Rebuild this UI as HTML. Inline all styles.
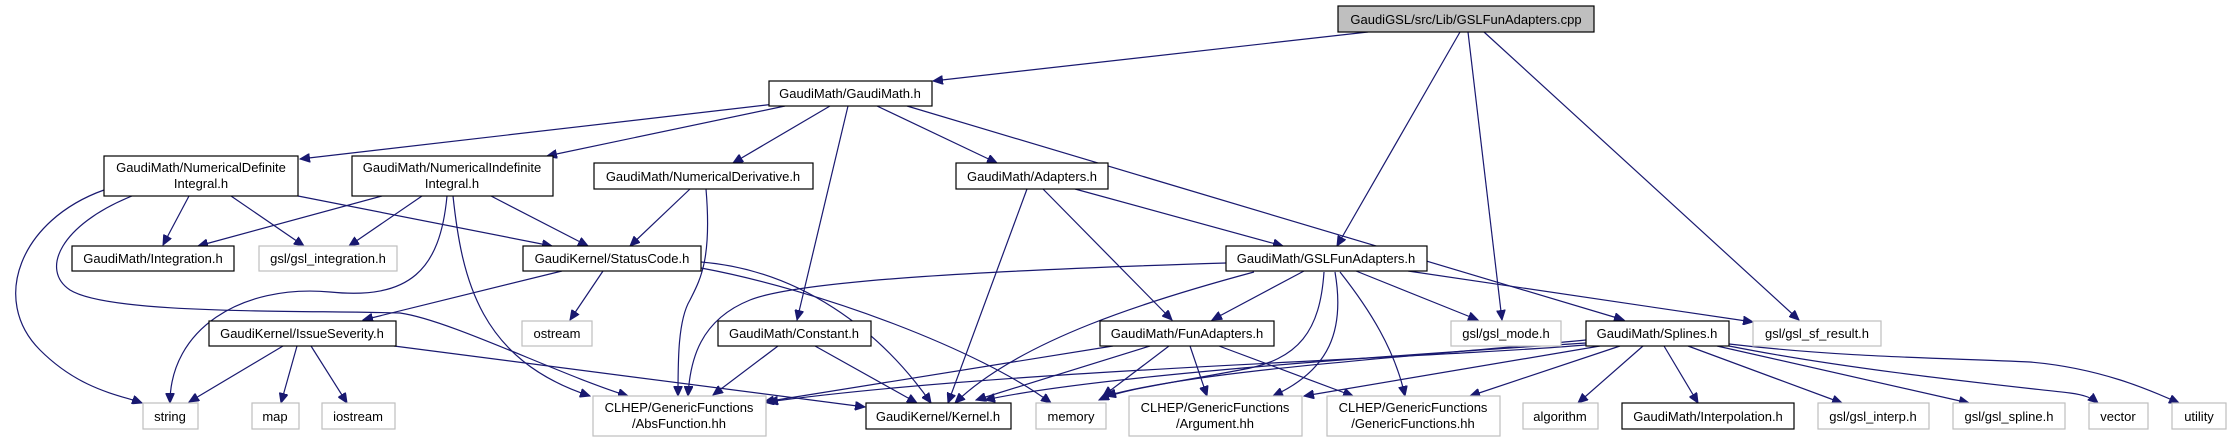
<!DOCTYPE html>
<html><head><meta charset="utf-8"><style>
html,body{margin:0;padding:0;background:#fff;}
svg{display:block;}
text{font-family:"Liberation Sans",sans-serif;font-size:13px;fill:#000;text-anchor:middle;}
.e{fill:none;stroke:#191970;stroke-width:1.2;}
.b{fill:#fff;stroke:#000;stroke-width:1.2;}
.g{fill:#fff;stroke:#bfbfbf;stroke-width:1.2;}
</style></head><body>
<svg width="2231" height="443" viewBox="0 0 2231 443" xmlns="http://www.w3.org/2000/svg">
<defs><marker id="a" markerUnits="userSpaceOnUse" markerWidth="11" markerHeight="9" refX="10" refY="4.5" orient="auto"><path d="M0,0 L10,4.5 L0,9 z" fill="#191970" stroke="#191970"/></marker></defs>
<g marker-end="url(#a)">
<path class="e" d="M1368,32 L933,81"/>
<path class="e" d="M1460,32 L1337,246"/>
<path class="e" d="M1468,32 L1502,320"/>
<path class="e" d="M1484,32 L1799,320"/>
<path class="e" d="M775,104 L300,159"/>
<path class="e" d="M785,106 L547,156"/>
<path class="e" d="M830,106 L733,163"/>
<path class="e" d="M848,106 L797,320"/>
<path class="e" d="M877,106 L997,163"/>
<path class="e" d="M907,106 L1624,320"/>
<path class="e" d="M104,190 C20,220 -10,300 40,350 C80,390 120,395 142,403"/>
<path class="e" d="M132,196 C60,225 40,270 70,290 C110,315 300,310 400,313 C450,320 560,375 628,396"/>
<path class="e" d="M189,196 L163,245"/>
<path class="e" d="M231,196 L304,246"/>
<path class="e" d="M298,196 L552,246"/>
<path class="e" d="M382,196 L198,246"/>
<path class="e" d="M422,196 L349,246"/>
<path class="e" d="M491,196 L588,246"/>
<path class="e" d="M447,196 C440,270 410,300 330,292 C240,284 170,330 170,403"/>
<path class="e" d="M453,196 C462,280 480,360 590,396"/>
<path class="e" d="M690,189 L630,246"/>
<path class="e" d="M706,189 C712,260 700,280 690,300 C678,320 678,360 678,396"/>
<path class="e" d="M562,271 L363,320"/>
<path class="e" d="M603,271 L570,320"/>
<path class="e" d="M701,262 C800,270 880,330 931,403"/>
<path class="e" d="M701,268 C820,290 980,350 1051,403"/>
<path class="e" d="M283,346 L189,402"/>
<path class="e" d="M297,346 L281,403"/>
<path class="e" d="M311,346 L347,403"/>
<path class="e" d="M394,346 L865,407"/>
<path class="e" d="M778,346 L713,395"/>
<path class="e" d="M815,346 L917,403"/>
<path class="e" d="M1027,189 L948,403"/>
<path class="e" d="M1043,189 L1172,320"/>
<path class="e" d="M1075,189 L1283,246"/>
<path class="e" d="M1226,263 C1000,270 800,280 750,300 C700,320 690,360 688,396"/>
<path class="e" d="M1254,272 C1150,300 1020,340 955,403"/>
<path class="e" d="M1304,271 L1212,320"/>
<path class="e" d="M1324,272 C1320,330 1300,360 1240,370 C1160,385 1120,390 1099,400"/>
<path class="e" d="M1335,272 C1345,330 1330,370 1273,396"/>
<path class="e" d="M1340,272 C1370,310 1395,350 1405,396"/>
<path class="e" d="M1356,271 L1478,320"/>
<path class="e" d="M1408,271 L1753,322"/>
<path class="e" d="M1113,346 L764,402"/>
<path class="e" d="M1150,346 L976,400"/>
<path class="e" d="M1169,346 L1103,396"/>
<path class="e" d="M1190,346 L1207,396"/>
<path class="e" d="M1219,346 L1353,396"/>
<path class="e" d="M1586,345 C1400,360 1000,370 768,402"/>
<path class="e" d="M1586,343 C1400,355 1100,375 985,400"/>
<path class="e" d="M1586,340 C1400,358 1200,370 1106,396"/>
<path class="e" d="M1600,346 L1304,396"/>
<path class="e" d="M1620,346 L1470,396"/>
<path class="e" d="M1643,346 L1578,403"/>
<path class="e" d="M1664,346 L1698,403"/>
<path class="e" d="M1688,346 L1842,403"/>
<path class="e" d="M1717,346 L1969,403"/>
<path class="e" d="M1729,346 C1850,370 2000,385 2070,393 C2085,395 2092,398 2098,403"/>
<path class="e" d="M1729,344 C1850,358 1950,358 2030,362 C2100,368 2150,390 2179,403"/>
</g>
<rect x="1338" y="6" width="256" height="26" fill="#bfbfbf" stroke="#000" stroke-width="1.2"/><text x="1466" y="24">GaudiGSL/src/Lib/GSLFunAdapters.cpp</text>
<rect class="b" x="769" y="81" width="163" height="25"/><text x="850" y="98">GaudiMath/GaudiMath.h</text>
<rect class="b" x="104" y="156" width="194" height="40"/><text x="201" y="172">GaudiMath/NumericalDefinite</text><text x="201" y="188">Integral.h</text>
<rect class="b" x="352" y="156" width="201" height="40"/><text x="452" y="172">GaudiMath/NumericalIndefinite</text><text x="452" y="188">Integral.h</text>
<rect class="b" x="594" y="163" width="219" height="26"/><text x="703" y="181">GaudiMath/NumericalDerivative.h</text>
<rect class="b" x="956" y="163" width="152" height="26"/><text x="1032" y="181">GaudiMath/Adapters.h</text>
<rect class="b" x="72" y="246" width="162" height="25"/><text x="153" y="263">GaudiMath/Integration.h</text>
<rect class="g" x="259" y="246" width="138" height="25"/><text x="328" y="263">gsl/gsl_integration.h</text>
<rect class="b" x="523" y="246" width="178" height="25"/><text x="612" y="263">GaudiKernel/StatusCode.h</text>
<rect class="b" x="1226" y="246" width="201" height="25"/><text x="1326" y="263">GaudiMath/GSLFunAdapters.h</text>
<rect class="b" x="209" y="321" width="187" height="25"/><text x="302" y="338">GaudiKernel/IssueSeverity.h</text>
<rect class="g" x="522" y="321" width="70" height="25"/><text x="557" y="338">ostream</text>
<rect class="b" x="718" y="321" width="153" height="25"/><text x="794" y="338">GaudiMath/Constant.h</text>
<rect class="b" x="1100" y="321" width="174" height="25"/><text x="1187" y="338">GaudiMath/FunAdapters.h</text>
<rect class="g" x="1451" y="321" width="110" height="25"/><text x="1506" y="338">gsl/gsl_mode.h</text>
<rect class="b" x="1586" y="321" width="143" height="25"/><text x="1657" y="338">GaudiMath/Splines.h</text>
<rect class="g" x="1753" y="321" width="128" height="25"/><text x="1817" y="338">gsl/gsl_sf_result.h</text>
<rect class="g" x="143" y="403" width="55" height="26"/><text x="170" y="421">string</text>
<rect class="g" x="252" y="403" width="47" height="26"/><text x="275" y="421">map</text>
<rect class="g" x="322" y="403" width="73" height="26"/><text x="358" y="421">iostream</text>
<rect class="g" x="593" y="396" width="173" height="40"/><text x="679" y="412">CLHEP/GenericFunctions</text><text x="679" y="428">/AbsFunction.hh</text>
<rect class="b" x="866" y="403" width="145" height="26"/><text x="938" y="421">GaudiKernel/Kernel.h</text>
<rect class="g" x="1036" y="403" width="70" height="26"/><text x="1071" y="421">memory</text>
<rect class="g" x="1129" y="396" width="173" height="40"/><text x="1215" y="412">CLHEP/GenericFunctions</text><text x="1215" y="428">/Argument.hh</text>
<rect class="g" x="1327" y="396" width="173" height="40"/><text x="1413" y="412">CLHEP/GenericFunctions</text><text x="1413" y="428">/GenericFunctions.hh</text>
<rect class="g" x="1523" y="403" width="75" height="26"/><text x="1560" y="421">algorithm</text>
<rect class="b" x="1622" y="403" width="172" height="26"/><text x="1708" y="421">GaudiMath/Interpolation.h</text>
<rect class="g" x="1818" y="403" width="111" height="26"/><text x="1873" y="421">gsl/gsl_interp.h</text>
<rect class="g" x="1953" y="403" width="112" height="26"/><text x="2009" y="421">gsl/gsl_spline.h</text>
<rect class="g" x="2089" y="403" width="59" height="26"/><text x="2118" y="421">vector</text>
<rect class="g" x="2172" y="403" width="54" height="26"/><text x="2199" y="421">utility</text>
</svg>
</body></html>
